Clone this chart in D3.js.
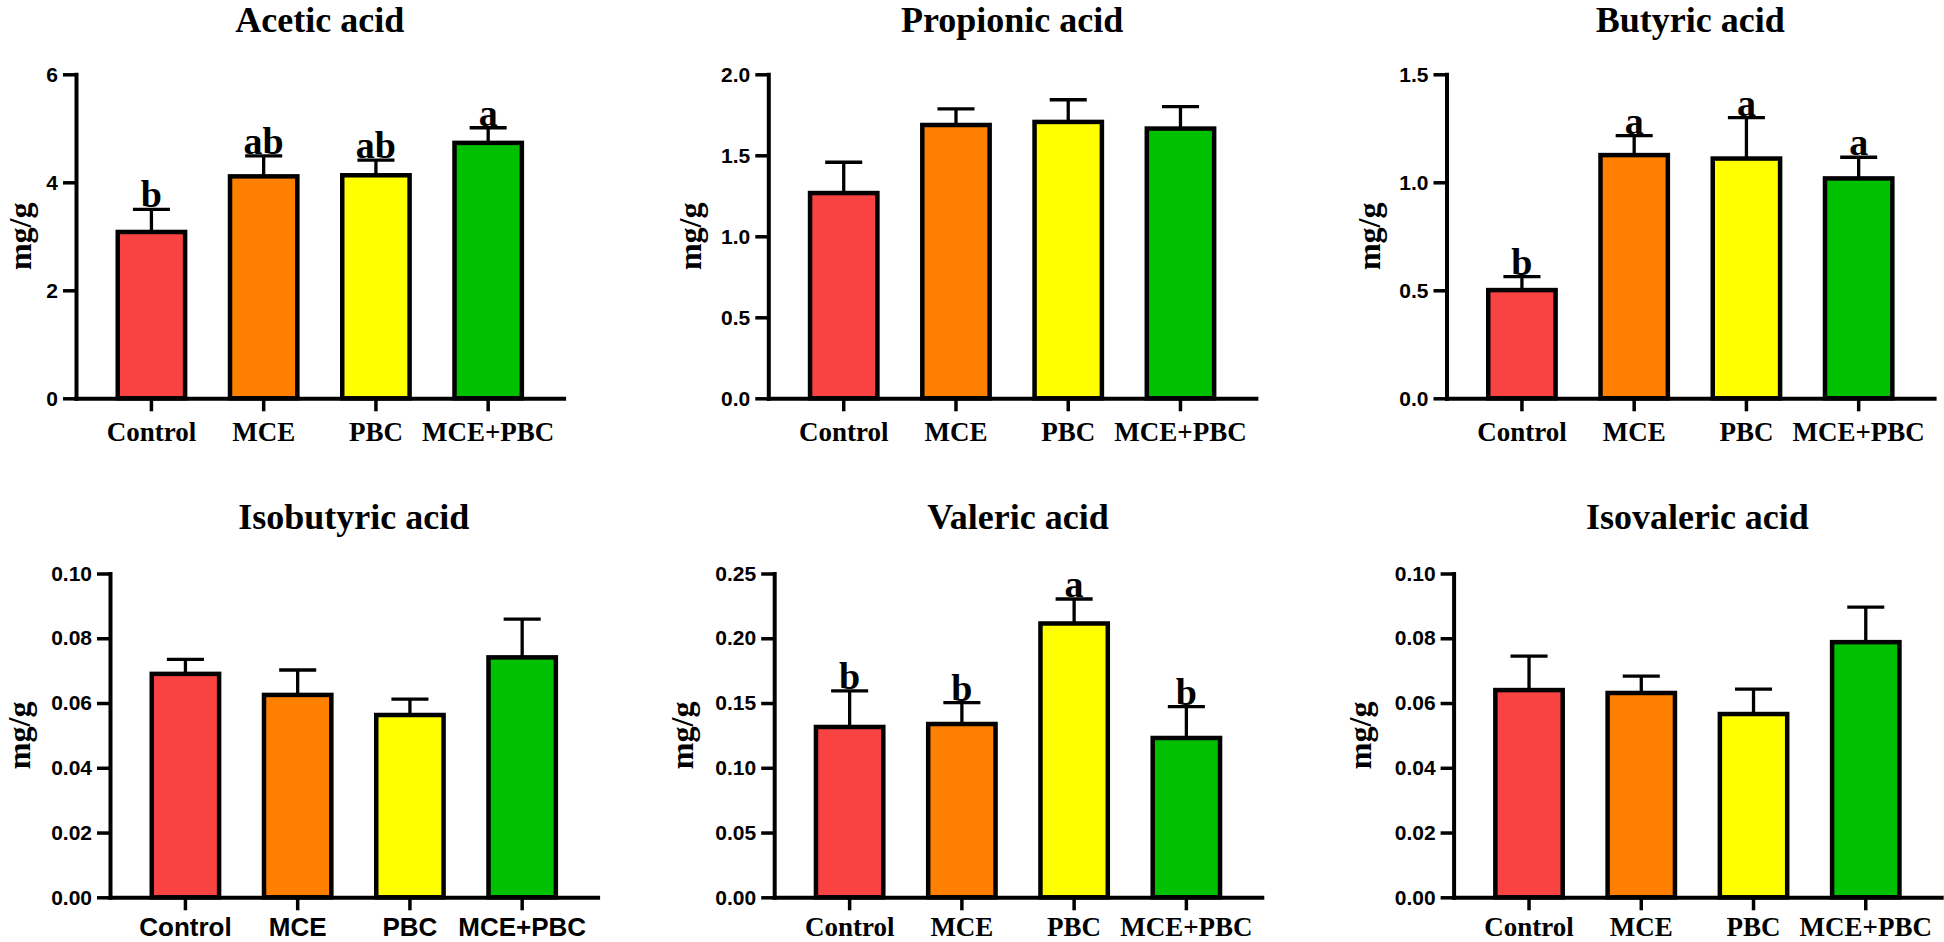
<!DOCTYPE html>
<html>
<head>
    <meta charset="UTF-8">
    <title>Short chain fatty acids</title>
    <script src="https://d3js.org/d3.v7.min.js"></script>
    <style>
        body { margin: 0; background: #ffffff; }
        svg { display: block; }
        .title, .ylab, .letter { font-family: "Liberation Serif", "Times New Roman", serif; font-weight: bold; fill: #000; }
        .domain { stroke: #000; stroke-width: 4; stroke-linecap: square; }
        .tick line { stroke: #000; stroke-width: 3.5; }
    </style>
</head>
<body>
    <svg id="chart" width="1944" height="942"></svg>

    <script>
        const groups = ['Control', 'MCE', 'PBC', 'MCE+PBC'];
        const barColors = ['#F94343', '#FF8000', '#FFFF00', '#00C000'];

        // mean and SEM
        const aceticMean = [3.08, 4.11, 4.13, 4.73];
        const aceticSem = [0.42, 0.38, 0.28, 0.28];
        const aceticLetters = ['b', 'ab', 'ab', 'a'];
        const aceticTicks = [0, 2, 4, 6];

        const propionicMean = [1.267, 1.687, 1.706, 1.665];
        const propionicSem = [0.19, 0.10, 0.137, 0.135];
        const propionicTicks = [0, 0.5, 1.0, 1.5, 2.0];

        const butyricMean = [0.501, 1.126, 1.110, 1.018];
        const butyricSem = [0.062, 0.09, 0.189, 0.098];
        const butyricLetters = ['b', 'a', 'a', 'a'];
        const butyricTicks = [0, 0.5, 1.0, 1.5];

        const isobutyricMean = [0.0690, 0.0625, 0.0563, 0.0741];
        const isobutyricSem = [0.0045, 0.0077, 0.0049, 0.0118];
        const isobutyricTicks = [0, 0.02, 0.04, 0.06, 0.08, 0.10];

        const valericMean = [0.1315, 0.1338, 0.2114, 0.1230];
        const valericSem = [0.0278, 0.0165, 0.0189, 0.0242];
        const valericLetters = ['b', 'b', 'a', 'b'];
        const valericTicks = [0, 0.05, 0.10, 0.15, 0.20, 0.25];

        const isovalericMean = [0.0640, 0.0631, 0.0566, 0.0788];
        const isovalericSem = [0.0105, 0.0052, 0.0077, 0.0108];
        const isovalericTicks = [0, 0.02, 0.04, 0.06, 0.08, 0.10];

        const panels = [
            { title: 'Acetic acid', mean: aceticMean, sem: aceticSem, letters: aceticLetters, ticks: aceticTicks, fmt: 'd',
              left: 76, top: 74.3, zero: 398.3, titleY: 32, ylabX: 31, sansCats: false, catPad: 11 },
            { title: 'Propionic acid', mean: propionicMean, sem: propionicSem, letters: null, ticks: propionicTicks, fmt: '.1f',
              left: 768.3, top: 74.3, zero: 398.3, titleY: 32, ylabX: 701, sansCats: false, catPad: 11 },
            { title: 'Butyric acid', mean: butyricMean, sem: butyricSem, letters: butyricLetters, ticks: butyricTicks, fmt: '.1f',
              left: 1446.5, top: 74.3, zero: 398.3, titleY: 32, ylabX: 1379.5, sansCats: false, catPad: 11 },
            { title: 'Isobutyric acid', mean: isobutyricMean, sem: isobutyricSem, letters: null, ticks: isobutyricTicks, fmt: '.2f',
              left: 110, top: 573.5, zero: 897.3, titleY: 529, ylabX: 30, sansCats: true, catPad: 7 },
            { title: 'Valeric acid', mean: valericMean, sem: valericSem, letters: valericLetters, ticks: valericTicks, fmt: '.2f',
              left: 774.2, top: 573.5, zero: 897.3, titleY: 529, ylabX: 693, sansCats: false, catPad: 6.5 },
            { title: 'Isovaleric acid', mean: isovalericMean, sem: isovalericSem, letters: null, ticks: isovalericTicks, fmt: '.2f',
              left: 1453.6, top: 573.5, zero: 897.3, titleY: 529, ylabX: 1371, sansCats: false, catPad: 6.5 }
        ];

        const axisLen = 487.6;
        const svg = d3.select('#chart');

        panels.forEach(p => {
            const x = d3.scaleBand().domain(groups)
                .range([p.left, p.left + axisLen])
                .paddingInner(0.4).paddingOuter(0.372);
            const y = d3.scaleLinear().domain([0, d3.max(p.ticks)]).range([p.zero, p.top]);
            const cx = i => x(groups[i]) + x.bandwidth() / 2;
            const capW = x.bandwidth() * 0.55;

            const g = svg.append('g');

            // error bars (upper only)
            g.selectAll('.err').data(p.mean).join('line')
                .attr('class', 'err')
                .attr('x1', (d, i) => cx(i)).attr('x2', (d, i) => cx(i))
                .attr('y1', d => y(d)).attr('y2', (d, i) => y(d + p.sem[i]))
                .attr('stroke', '#000').attr('stroke-width', 3.3);
            g.selectAll('.cap').data(p.mean).join('line')
                .attr('class', 'cap')
                .attr('x1', (d, i) => cx(i) - capW / 2).attr('x2', (d, i) => cx(i) + capW / 2)
                .attr('y1', (d, i) => y(d + p.sem[i])).attr('y2', (d, i) => y(d + p.sem[i]))
                .attr('stroke', '#000').attr('stroke-width', 3.3);

            // bars
            g.selectAll('.bar').data(p.mean).join('rect')
                .attr('class', 'bar')
                .attr('x', (d, i) => x(groups[i]))
                .attr('width', x.bandwidth())
                .attr('y', d => y(d))
                .attr('height', d => p.zero - y(d))
                .attr('fill', (d, i) => barColors[i])
                .attr('stroke', '#000')
                .attr('stroke-width', 4.5);

            // significance letters
            if (p.letters) {
                g.selectAll('.letter').data(p.letters).join('text')
                    .attr('class', 'letter')
                    .attr('x', (d, i) => cx(i))
                    .attr('y', (d, i) => y(p.mean[i] + p.sem[i]) - 2)
                    .attr('text-anchor', 'middle')
                    .style('font-size', '38px')
                    .text(d => d);
            }

            // axes
            g.append('g')
                .attr('transform', `translate(${p.left},0)`)
                .call(d3.axisLeft(y).tickValues(p.ticks).tickFormat(d3.format(p.fmt))
                    .tickSize(13).tickSizeOuter(0).tickPadding(5))
                .call(a => a.selectAll('text')
                    .style('font-family', '"Liberation Sans", Arial, sans-serif')
                    .style('font-weight', 'bold')
                    .style('font-size', '21px')
                    .attr('fill', '#000'));

            g.append('g')
                .attr('transform', `translate(0,${p.zero})`)
                .call(d3.axisBottom(x).tickSize(13).tickSizeOuter(0).tickPadding(p.catPad))
                .call(a => a.selectAll('text')
                    .style('font-family', p.sansCats ? '"Liberation Sans", Arial, sans-serif' : '"Liberation Serif", "Times New Roman", serif')
                    .style('font-weight', 'bold')
                    .style('font-size', p.sansCats ? '26px' : '27px')
                    .attr('fill', '#000'));

            // title
            g.append('text')
                .attr('class', 'title')
                .attr('x', cx(0) / 2 + cx(3) / 2)
                .attr('y', p.titleY)
                .attr('text-anchor', 'middle')
                .style('font-size', '36px')
                .text(p.title);

            // y label
            g.append('text')
                .attr('class', 'ylab')
                .attr('transform', `translate(${p.ylabX},${(p.top + p.zero) / 2}) rotate(-90)`)
                .attr('text-anchor', 'middle')
                .style('font-size', '32px')
                .text('mg/g');
        });
    </script>
</body>
</html>
